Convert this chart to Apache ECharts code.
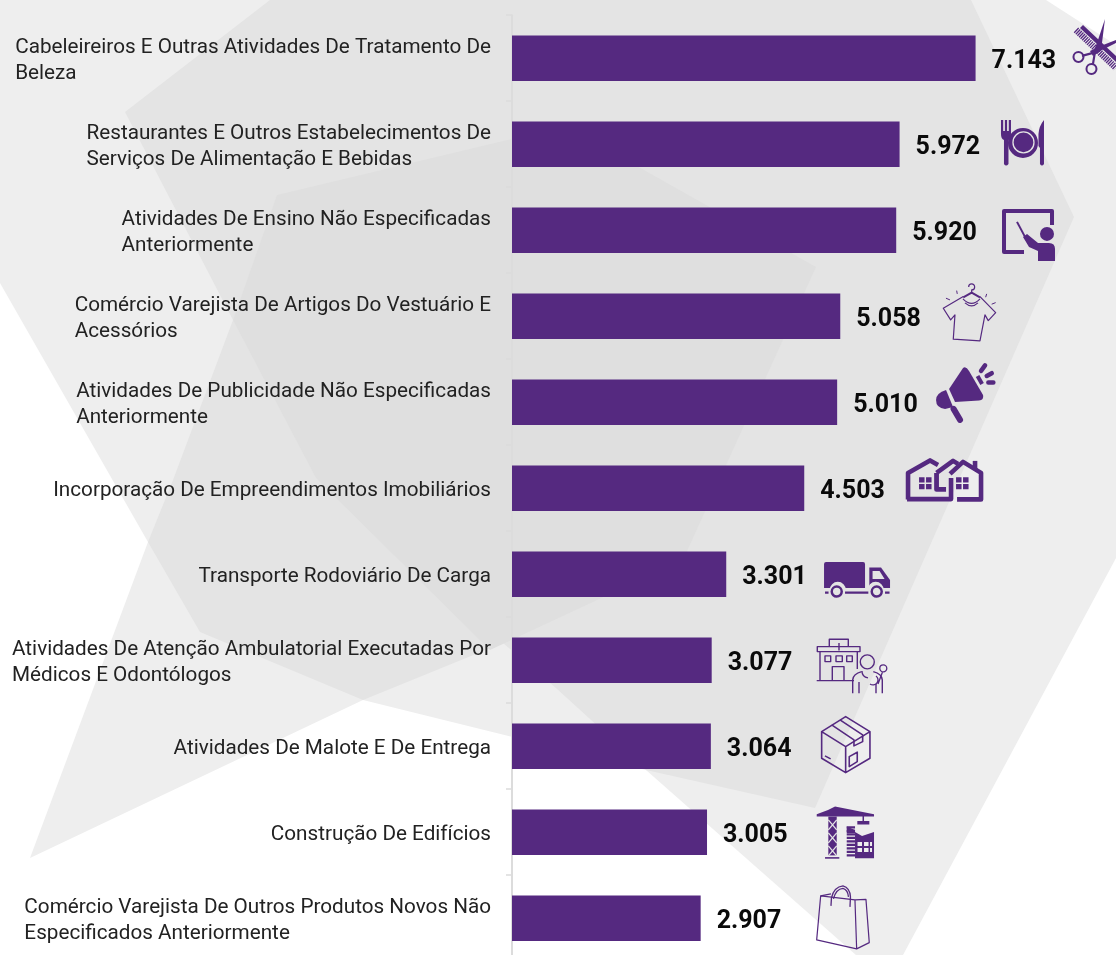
<!DOCTYPE html>
<html><head><meta charset="utf-8">
<style>html,body{margin:0;padding:0;background:#fff;width:1116px;height:955px;overflow:hidden}#c{width:1116px;height:975px}</style>
<script src="https://cdn.jsdelivr.net/npm/echarts@6/dist/echarts.min.js"></script>
</head><body><div id="c"></div>
<script>
const categories = [
 "Cabeleireiros E Outras Atividades De Tratamento De\nBeleza",
 "Restaurantes E Outros Estabelecimentos De\nServiços De Alimentação E Bebidas",
 "Atividades De Ensino Não Especificadas\nAnteriormente",
 "Comércio Varejista De Artigos Do Vestuário E\nAcessórios",
 "Atividades De Publicidade Não Especificadas\nAnteriormente",
 "Incorporação De Empreendimentos Imobiliários",
 "Transporte Rodoviário De Carga",
 "Atividades De Atenção Ambulatorial Executadas Por\nMédicos E Odontólogos",
 "Atividades De Malote E De Entrega",
 "Construção De Edifícios",
 "Comércio Varejista De Outros Produtos Novos Não\nEspecificados Anteriormente"
];
const values = [7143,5972,5920,5058,5010,4503,3301,3077,3064,3005,2907];

const PURPLE = '#552980', BG = '#e4e4e4';
const bgLight = [[0,0],[1046,0],[1116,45],[1116,558],[903,955],[856,955],[646,770],[363,700],[30,858],[148,542],[0,283]];
const bgMid = [[270,0],[971,0],[1074,217],[815,808],[646,770],[556,688],[503,643],[363,700],[200,632],[148,542],[173,480],[233,320],[125,112]];
const bgDark = [[277,195],[566,126],[816,267],[683,560],[490,650],[316,478],[233,320]];

const F = d => ({d, fill:PURPLE});
const S = (d, lw, extra) => Object.assign({d, stroke:PURPLE, lw:lw||1.5}, extra||{});
const icons = [
 {w:43,h:58,dx:97.4,dy:-39.3,parts:[
  F('M10 6L43 37V43L7 9Z'),
  S('M3 11L43 49',6.5,{dash:[1.3,0.9]}),
  F('M32 0L29 24L27 33L21 31L24 24Z'),
  F('M43 21L43 24L29 31L20 37L17 32L25 28Z'),
  S('M20 34L9 37M22 33L20 45',2.2),
  S('M5.5 33A5 5 0 1 1 5.49 33Z',2),
  S('M18.5 45A5 5 0 1 1 18.49 45Z',2)]},
 {w:43,h:46,dx:101.4,dy:-24.3,parts:[
  F('M0 0H2.2V11H3.9V0H6.1V11H7.8V0H10V14Q10 19 7.5 20V44Q5 47 3 44V20Q0 19 0 14Z'),
  F('M22 8A15 15 0 1 1 21.99 8Z'),
  S('M22.5 12A10.5 10.5 0 1 1 22.49 12Z',1.3,{color:BG}),
  F('M43 0Q38 6 37.5 14V26L39 28V44Q41 47 43 44Z')]},
 {w:53,h:52,dx:105.8,dy:-21.3,parts:[
  S('M50 16V2H2V43H22',4),
  S('M15 13L23 28',2),
  F('M45 18A7 7 0 1 1 44.99 18Z'),
  F('M21 28L25 25L36 34H47Q53 34 53 40V52H36V42L27 38Z')]},
 {w:54,h:58,dx:102.7,dy:-32.3,parts:[
  S('M20.3 12.7L0.3 24.3L7.7 36L12 31L10.3 55.3L37 57L42 31L45.3 36.7L52.7 28.7L37 12.7',1.2),
  S('M20.3 13.5L28.7 8.7L37 13.5',2),
  S('M28.7 8.7V6A3 3 0 1 0 25.7 3',1.2),
  S('M20 15Q28.7 24 37 15M22 19Q28.7 25 35 19',1.2),
  S('M3 14.3L7 16M13.7 6.7L14.3 10M43.7 10L42.7 13.3M52.7 18.7L48.7 20.3',1)]},
 {w:60,h:58,dx:98.9,dy:-38.3,parts:[
  F('M27 4Q30 2 33 7L47 31Q48 36 43 36.5L19 38L13 25Z'),
  F('M10 26Q0 29 0 36Q0 44 9 45L17 43Z'),
  S('M17.5 45L24 56',6,{cap:'round'}),
  S('M41.5 12L46 20',4),
  S('M45 7L49 1.5M50.7 12L55.7 9.3M52.3 18.7L57.3 18.7',4.5,{cap:'round'})]},
 {w:77,h:43,dx:101.8,dy:-30.3,parts:[
  S('M2 41.5V15L24 2.5L32 7',4.6),
  S('M1 41.2H45V20',4.6),
  S('M30.5 15V31.5H40',4.8),
  S('M30.5 15L47 3L52 6',4.6),
  S('M44 16L57 4L75 15V41.5H51',4.6),
  F('M66.7 3H71.3V11H66.7Z'),
  F('M13 19.3H18.5V24.5H13ZM20 19.3H25.5V24.5H20ZM13 26H18.5V31.3H13ZM20 26H25.5V31.3H20Z'),
  F('M50 19.3H55.5V24.5H50ZM57 19.3H62.5V24.5H57ZM50 26H55.5V31.3H50ZM57 26H62.5V31.3H57Z')]},
 {w:66,h:36,dx:97.8,dy:-12.3,parts:[
  F('M2 0H39Q41 0 41 2V26H0V2Q0 0 2 0Z'),
  F('M45.3 5.7H57L66 18V26H45.3Z'),
  {d:'M48.5 9H55.5L60.5 17H48.5Z',fill:BG},
  {d:'M12.7 21A8.5 8.5 0 1 1 12.69 21ZM52.7 21A8.5 8.5 0 1 1 52.69 21Z',fill:BG},
  S('M12.7 24.7A5 5 0 1 1 12.69 24.7ZM52.7 24.7A5 5 0 1 1 52.69 24.7Z',2.5),
  S('M1 30.7H4.5M21 30.7H44.3M61 30.7H65.5',2.2)]},
 {w:72,h:56,dx:104.3,dy:-22.3,parts:[
  S('M0.7 42.7H38M4 13.7V42.7M41.3 13.7V31',1.4),
  S('M1.3 8.7H44V13.7H1.3ZM13.3 8.7V1.3H32.3V8.7M19.5 8.7H26.5M23 5V12.7',1.4),
  S('M9 18H14.7V23.7H9ZM20 18H26.3V23.7H20ZM30.7 18H36.3V23.7H30.7ZM16.3 42.7V28.7H28V42.7',1.4),
  S('M51.3 17A7 7 0 1 1 51.29 17Z',1.4),
  S('M36.7 55.3V42Q37 36 45.7 33.7M57.3 33.7Q66 36 66.3 42V55.3M43 44V55.3M60 46V55.3',1.4),
  S('M46 33Q46 39 52 40M54 46A5 5 0 0 0 60 38M67.3 27A3.5 3.5 0 1 1 67.29 27ZM66.5 34L62 46',1.3)]},
 {w:51,h:58,dx:109.1,dy:-30.3,parts:[
  S('M25.7 0.7L50 15.7V42.3L25.7 56.7L1.7 42.3V15.7ZM1.7 15.7L25.7 30.7L50 15.7M25.7 30.7V56.7',1.6),
  S('M11.7 9L34 24V30L42.7 25.7V19L20 4',1.6),
  S('M29.3 40.7L37.3 36.3V45.7L29.3 50.7ZM5 40L10.7 43',1.6)]},
 {w:58,h:53,dx:109,dy:-26.3,parts:[
  F('M0.7 8.3L12 4L19 0.7L58 8.3V10.7H0.7Z'),
  F('M12.3 10.7H20.7V49.5H12.3Z'),
  S('M12.3 14L20.7 24M12.3 24L20.7 14M12.3 27L20.7 37M12.3 37L20.7 27M12.3 40L20.7 50M12.3 50L20.7 40',1.3,{color:BG}),
  S('M9 52H23.3',1.6),
  F('M41.3 15H53.3V18.5H41.3ZM46.5 10H48V15H46.5Z'),
  S('M30.7 21.5H39M30.7 25H39M30.7 28.5H39M30.7 32H39M30.7 35.5H39M30.7 39H39M30.7 42.5H39M30.7 46H39M30.7 49.5H39',2.3),
  F('M39 26L46 30L58 26V52.3H39ZM41.5 36V40H46V36ZM48 36V40H52.5V36ZM41.5 42V46H46V42ZM48 42V46H52.5V42ZM54 36V40H56V36ZM54 42V46H56V42Z'),
  F('M30.7 20.5L39 24V27H30.7Z')]},
 {w:54,h:64,dx:115.3,dy:-33.3,parts:[
  S('M0.7 55L4.7 11L39 15L40.7 64L0.7 55ZM39 15L50 14.5L53.3 57.7L40.7 64',1.2),
  S('M4.7 11L15 9M15 21L15.5 13Q18 2 27 1Q34 3 34.5 12L34 22M17.5 14Q20 4 27 3.5Q32 5 32.5 12',1.3)]}
];

const chart = echarts.init(document.getElementById('c'), null, {renderer:'canvas'});
const poly = (pts, fill) => ({type:'polygon', z:-10, shape:{points:pts}, style:{fill}, silent:true});
chart.setOption({
 animation:false,
 backgroundColor:'#fff',
 graphic:{elements:[poly(bgLight,'#eeeeee'),poly(bgMid,'#e4e4e4'),poly(bgDark,'#dfdfdf')]},
 grid:{left:512,top:15.2,width:519.2,height:946,containLabel:false},
 xAxis:{type:'value',min:0,max:8000,show:false},
 yAxis:{type:'category',inverse:true,data:categories,offset:1,
  axisLine:{show:true,lineStyle:{color:'#dcdcdc',width:2}},
  axisTick:{show:true,length:6,lineStyle:{color:'#dcdcdc',width:1.5}},
  axisLabel:{margin:20,interval:0,padding:[6,0,0,0],
   formatter:v=>v.split('\n').map(s=>'{l|'+s+'}').join('\n'),
   rich:{l:{align:'left',fontFamily:'Roboto',fontSize:20.7,lineHeight:26,color:'#222222'}}}},
 series:[
  {type:'bar',data:values,barWidth:45.4,itemStyle:{color:PURPLE},
   label:{show:true,position:'right',distance:16,offset:[0,4],fontFamily:'Roboto',fontWeight:700,fontSize:25,color:'#0a0a0a',
    formatter:p=>String(p.value).replace(/(\d)(\d{3})$/,'$1.$2')}},
  {type:'custom',coordinateSystem:'cartesian2d',silent:true,z:5,
   data:values.map((v,i)=>[v,i]),
   encode:{x:0,y:1},
   renderItem(params,api){
    const ic=icons[params.dataIndex], p=api.coord([api.value(0),api.value(1)]);
    return {type:'group',x:p[0]+ic.dx,y:p[1]+ic.dy,
     children:ic.parts.map(t=>({type:'path',layout:'cover',
      shape:{pathData:'M0 0M'+ic.w+' '+ic.h+t.d,x:0,y:0,width:ic.w,height:ic.h},
      style:{fill:t.fill||'none',stroke:t.stroke?(t.color||t.stroke):null,lineWidth:t.lw||0,lineDash:t.dash||null,lineCap:t.cap||'butt',lineJoin:'round'}}))};
   }}
 ]
});
</script></body></html>
